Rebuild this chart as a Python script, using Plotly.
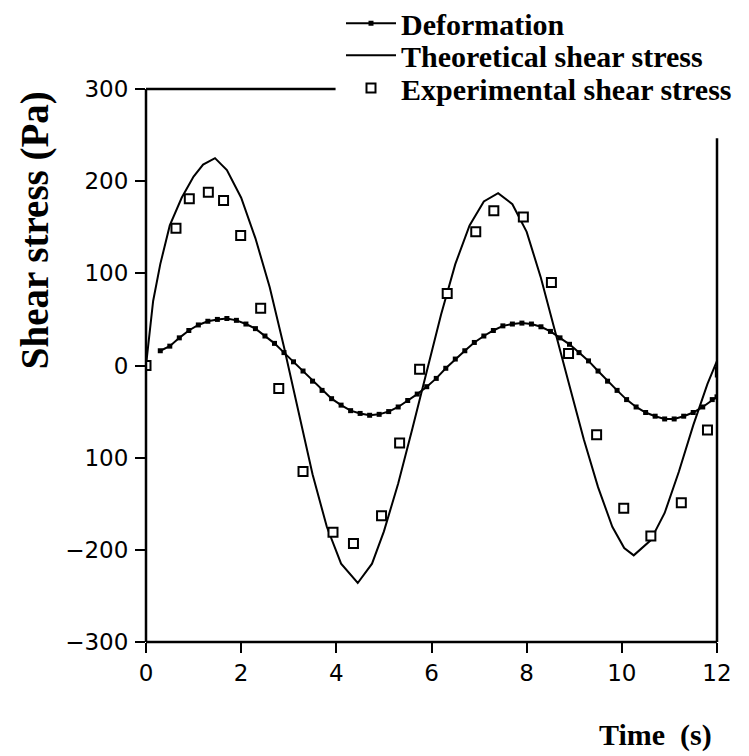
import plotly.graph_objects as go

# Deformation (scaled to stress axis)
deform_t = [0.3, 0.5, 0.7, 0.9, 1.1, 1.3, 1.5, 1.7, 1.9, 2.1, 2.3, 2.5, 2.7, 2.9, 3.1,
            3.3, 3.5, 3.7, 3.9, 4.1, 4.3, 4.5, 4.7, 4.9, 5.1, 5.3, 5.5, 5.7, 5.9, 6.1,
            6.3, 6.5, 6.7, 6.9, 7.1, 7.3, 7.5, 7.7, 7.9, 8.1, 8.3, 8.5, 8.7, 8.9, 9.1,
            9.3, 9.5, 9.7, 9.9, 10.1, 10.3, 10.5, 10.7, 10.9, 11.1, 11.3, 11.5, 11.7, 11.9, 12.0]
deform_v = [16, 21, 30, 38, 44, 48, 50, 51, 49, 45, 40, 32, 24, 14, 4,
            -6, -17, -27, -36, -43, -49, -52, -54, -53, -50, -45, -38, -31, -23, -14,
            -3, 7, 16, 25, 32, 38, 43, 45, 46, 45, 42, 37, 30, 23, 14,
            5, -6, -17, -27, -37, -45, -51, -55, -58, -58, -55, -51, -45, -37, -34]

# Theoretical shear stress
theo_t = [0, 0.15, 0.3, 0.5, 0.75, 1.0, 1.2, 1.45, 1.7, 2.0, 2.3, 2.6, 2.9, 3.2, 3.5,
          3.8, 4.1, 4.45, 4.75, 5.0, 5.3, 5.6, 5.9, 6.2, 6.5, 6.8, 7.1, 7.4, 7.7, 8.0,
          8.3, 8.6, 8.9, 9.2, 9.5, 9.8, 10.05, 10.25, 10.6, 10.9, 11.2, 11.5, 11.8, 12.0]
theo_v = [0, 70, 110, 152, 182, 205, 218, 225, 212, 182, 138, 85, 20, -50, -118,
          -175, -215, -236, -215, -180, -128, -68, -5, 55, 110, 152, 178, 187, 175, 145,
          95, 38, -22, -80, -132, -175, -198, -206, -190, -160, -115, -65, -20, 5]

# Experimental shear stress
exp_t = [0, 0.63, 0.91, 1.31, 1.63, 1.99, 2.41, 2.79, 3.30, 3.93, 4.36, 4.95, 5.33,
         5.75, 6.33, 6.93, 7.31, 7.93, 8.52, 8.88, 9.47, 10.04, 10.61, 11.25, 11.8, 12.07]
exp_v = [0, 149, 181, 188, 179, 141, 62, -25, -115, -181, -193, -163, -84,
         -4, 78, 145, 168, 161, 90, 13, -75, -155, -185, -149, -70, -7]

x_ticks = [0, 2, 4, 6, 8, 10, 12]
y_ticks = [-300, -200, -100, 0, 100, 200, 300]
y_ticktext = ["\u2212300", "\u2212200", "100", "0", "100", "200", "300"]

fig = go.Figure()
fig.add_trace(go.Scatter(
    x=deform_t, y=deform_v, mode="lines+markers", name="<b>Deformation</b>",
    line=dict(color="black", width=2),
    marker=dict(symbol="square", size=5, color="black"), legend="legend"))
fig.add_trace(go.Scatter(
    x=theo_t, y=theo_v, mode="lines", name="<b>Theoretical shear stress</b>",
    line=dict(color="black", width=2), legend="legend2"))
fig.add_trace(go.Scatter(
    x=exp_t, y=exp_v, mode="markers", name="<b>Experimental shear stress</b>",
    marker=dict(symbol="square", size=9, color="white",
                line=dict(color="black", width=2)), legend="legend3"))

tickfont = dict(family="DejaVu Sans", size=23, color="black")
fig.update_xaxes(range=[0, 12], tickvals=x_ticks, ticks="outside", ticklen=10,
                 tickwidth=2, tickcolor="black", showgrid=False, zeroline=False,
                 showline=False, tickfont=tickfont, automargin=False)
fig.update_yaxes(range=[-300, 300], tickvals=y_ticks, ticktext=y_ticktext,
                 ticks="outside", ticklen=10, tickwidth=2, tickcolor="black",
                 showgrid=False, zeroline=False, showline=False, tickfont=tickfont,
                 ticklabelstandoff=2, automargin=False)

frame = dict(color="black", width=2.5)
fig.add_shape(type="line", xref="paper", yref="paper", x0=0, x1=0, y0=0, y1=1, line=frame)
fig.add_shape(type="line", xref="paper", yref="paper", x0=0, x1=1, y0=0, y1=0, line=frame)
fig.add_shape(type="line", xref="paper", yref="paper", x0=0, x1=0.332, y0=1, y1=1, line=frame)
fig.add_shape(type="line", xref="paper", yref="paper", x0=1, x1=1, y0=0, y1=0.911, line=frame)

serif = "Liberation Serif"
fig.add_annotation(text="<b>Shear stress (Pa)</b>", xref="paper", yref="paper",
                   x=-0.194, y=0.745, xanchor="center", yanchor="middle",
                   textangle=-90, showarrow=False,
                   font=dict(family=serif, size=39, color="black"))
fig.add_annotation(text="<b>Time  (s)</b>", xref="paper", yref="paper",
                   x=0.893, y=-0.168, xanchor="center", yanchor="middle",
                   showarrow=False,
                   font=dict(family=serif, size=30, color="black"))

leg_common = dict(x=0.3415, xanchor="left", yanchor="middle",
                  bgcolor="rgba(0,0,0,0)", itemwidth=50,
                  font=dict(family=serif, size=30, color="black"))
fig.update_layout(
    width=741, height=748,
    margin=dict(l=138, r=32, t=81, b=114, autoexpand=False),
    paper_bgcolor="white", plot_bgcolor="white",
    showlegend=True,
    legend=dict(y=1.119, **leg_common),
    legend2=dict(y=1.061, **leg_common),
    legend3=dict(y=1.002, **leg_common),
)

fig.write_html("out.html")
